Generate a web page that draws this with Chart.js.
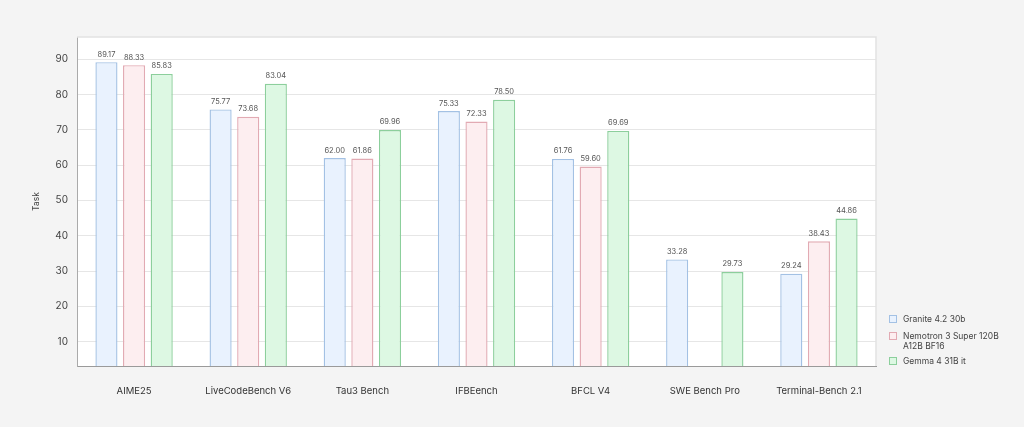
<!DOCTYPE html>
<html>
<head>
<meta charset="utf-8">
<script src="https://cdn.jsdelivr.net/npm/chart.js@4"></script>
<style>
  html, body { margin: 0; padding: 0; background: #f4f4f4; }
  #wrap { width: 1024px; height: 427px; position: relative; }
</style>
</head>
<body>
<div id="wrap"><canvas id="chart"></canvas></div>
<script>
// benchmark names along the x axis
const categories = ["AIME25", "LiveCodeBench V6", "Tau3 Bench", "IFBEench", "BFCL V4", "SWE Bench Pro", "Terminal-Bench 2.1"];

// scores per model (null = not reported)
const graniteScores = [89.17, 75.77, 62.00, 75.33, 61.76, 33.28, 29.24];
const nemotronScores = [88.33, 73.68, 61.86, 72.33, 59.60, null, 38.43];
const gemmaScores = [85.83, 83.04, 69.96, 78.50, 69.69, 29.73, 44.86];

const yTicks = [10, 20, 30, 40, 50, 60, 70, 80, 90];

const FONT = "Inter, 'Noto Sans', sans-serif";

// white plot background + light frame around the chart area
const plotFrame = {
  id: "plotFrame",
  beforeDraw(chart) {
    const { ctx, chartArea: a } = chart;
    ctx.save();
    ctx.fillStyle = "#ffffff";
    ctx.fillRect(a.left, a.top, a.right - a.left, a.bottom - a.top);
    ctx.restore();
  },
  afterDatasetsDraw(chart) {
    const { ctx, chartArea: a } = chart;
    ctx.save();
    ctx.strokeStyle = "#e2e2e2";
    ctx.lineWidth = 1.5;
    ctx.beginPath();
    ctx.moveTo(a.left, a.top);
    ctx.lineTo(a.right, a.top);
    ctx.lineTo(a.right, a.bottom);
    ctx.stroke();
    ctx.restore();
  },
};

// value labels above each bar
const valueLabels = {
  id: "valueLabels",
  afterDatasetsDraw(chart) {
    const { ctx } = chart;
    ctx.save();
    ctx.font = "7.5px " + FONT;
    ctx.fillStyle = "#555555";
    ctx.textAlign = "center";
    ctx.textBaseline = "bottom";
    chart.data.datasets.forEach((ds, i) => {
      chart.getDatasetMeta(i).data.forEach((bar, j) => {
        const v = ds.data[j];
        if (v === null) return;
        ctx.fillText(v.toFixed(2), bar.x, bar.y - 4);
      });
    });
    ctx.restore();
  },
};

// legend to the right of the plot, bottom aligned
const sideLegend = {
  id: "sideLegend",
  afterDraw(chart) {
    const { ctx, chartArea: a } = chart;
    const x = a.right + 13;
    const rows = [
      { ds: 0, lines: ["Granite 4.2 30b"], y: 319 },
      { ds: 1, lines: ["Nemotron 3 Super 120B", "A12B BF16"], y: 336 },
      { ds: 2, lines: ["Gemma 4 31B it"], y: 361 },
    ];
    ctx.save();
    ctx.font = "8.5px " + FONT;
    ctx.textBaseline = "middle";
    rows.forEach((r) => {
      const ds = chart.data.datasets[r.ds];
      ctx.fillStyle = ds.backgroundColor;
      ctx.strokeStyle = ds.borderColor;
      ctx.lineWidth = 1;
      ctx.fillRect(x, r.y - 4, 8, 8);
      ctx.strokeRect(x + 0.5, r.y - 3.5, 7, 7);
      ctx.fillStyle = "#444444";
      r.lines.forEach((t, k) => ctx.fillText(t, x + 14, r.y + k * 10));
    });
    ctx.restore();
  },
};

new Chart(document.getElementById("chart"), {
  type: "bar",
  data: {
    labels: categories,
    datasets: [
      {
        label: "Granite 4.2 30b",
        data: graniteScores,
        backgroundColor: "#e9f2fe",
        borderColor: "#a3c1e4",
      },
      {
        label: "Nemotron 3 Super 120B A12B BF16",
        data: nemotronScores,
        backgroundColor: "#fdeef0",
        borderColor: "#e2aab3",
      },
      {
        label: "Gemma 4 31B it",
        data: gemmaScores,
        backgroundColor: "#ddf8e3",
        borderColor: "#8ccf9c",
      },
    ],
  },
  options: {
    responsive: true,
    maintainAspectRatio: false,
    animation: false,
    categoryPercentage: 0.726,
    barPercentage: 0.8,
    datasets: { bar: { borderWidth: 1.4, borderSkipped: false } },
    layout: { padding: { left: 0, right: 148, top: 37, bottom: 0 } },
    plugins: {
      legend: { display: false },
      tooltip: { enabled: false },
    },
    scales: {
      x: {
        grid: { display: false },
        border: { color: "#9a9a9a", width: 1 },
        ticks: { color: "#333333", font: { family: FONT, size: 9.5 }, padding: 11 },
        afterFit: (s) => { s.height = 61; },
      },
      y: {
        min: 3.1,
        max: 96.3,
        afterBuildTicks: (s) => { s.ticks = yTicks.map((v) => ({ value: v })); },
        afterFit: (s) => { s.width = 77; },
        grid: { color: "#e6e6e6", lineWidth: 1, drawTicks: false },
        border: { color: "#aaaaaa", width: 1 },
        ticks: { color: "#444444", font: { family: FONT, size: 10 }, padding: 9 },
        title: {
          display: true,
          text: "Task",
          color: "#444444",
          font: { family: FONT, size: 8.5 },
          padding: { top: 31, bottom: 0 },
        },
      },
    },
  },
  plugins: [plotFrame, valueLabels, sideLegend],
});
</script>
</body>
</html>
